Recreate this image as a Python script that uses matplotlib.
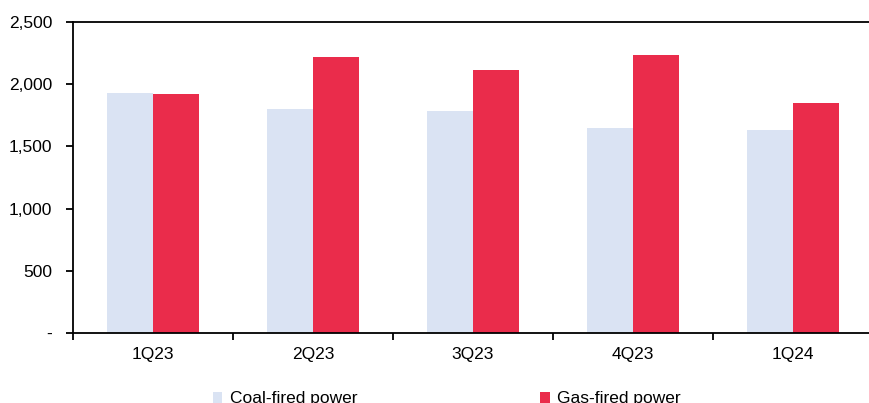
import numpy as np
import matplotlib
matplotlib.use("Agg")
import matplotlib.pyplot as plt
from matplotlib.ticker import FuncFormatter

# Quarterly data
quarters = ["1Q23", "2Q23", "3Q23", "4Q23", "1Q24"]
coal_power = [1927, 1798, 1782, 1645, 1629]
gas_power = [1919, 2218, 2113, 2234, 1847]

coal_color = "#dae3f3"
gas_color = "#ea2c4b"

plt.rcParams["font.family"] = ["Liberation Sans", "DejaVu Sans"]
plt.rcParams["font.size"] = 12.5

fig = plt.figure(figsize=(8.69, 4.03), dpi=100)
ax = fig.add_axes([0.084, 0.1737, 0.9206, 0.7717])

x = np.arange(len(quarters))
w = 0.29
ax.bar(x - w / 2, coal_power, width=w, color=coal_color, label="Coal-fired power")
ax.bar(x + w / 2, gas_power, width=w, color=gas_color, label="Gas-fired power")

ax.set_xlim(-0.5, len(quarters) - 0.5)
ax.set_ylim(0, 2500)
ax.set_yticks(np.arange(0, 2501, 500))
ax.yaxis.set_major_formatter(FuncFormatter(lambda v, p: "-" if v == 0 else f"{v:,.0f}"))

# category labels centred, tick marks at category boundaries
ax.set_xticks(x)
ax.set_xticklabels(quarters)
ax.tick_params(axis="x", which="major", length=0, pad=10)
ax.set_xticks(np.arange(-0.5, len(quarters) + 0.5), minor=True)
ax.tick_params(axis="x", which="minor", length=5, width=1.3, direction="out")
ax.tick_params(axis="y", length=5, width=1.3, direction="out", pad=10)

for side in ["left", "bottom", "top"]:
    ax.spines[side].set_linewidth(1.3)
ax.spines["right"].set_visible(False)

fig.legend(loc="center left", bbox_to_anchor=(0.245, 0.01), ncol=2, frameon=False,
           handlelength=0.55, handleheight=0.55, handletextpad=0.45, columnspacing=10.5,
           borderaxespad=0, borderpad=0)

fig.savefig("out.png", dpi=100)
